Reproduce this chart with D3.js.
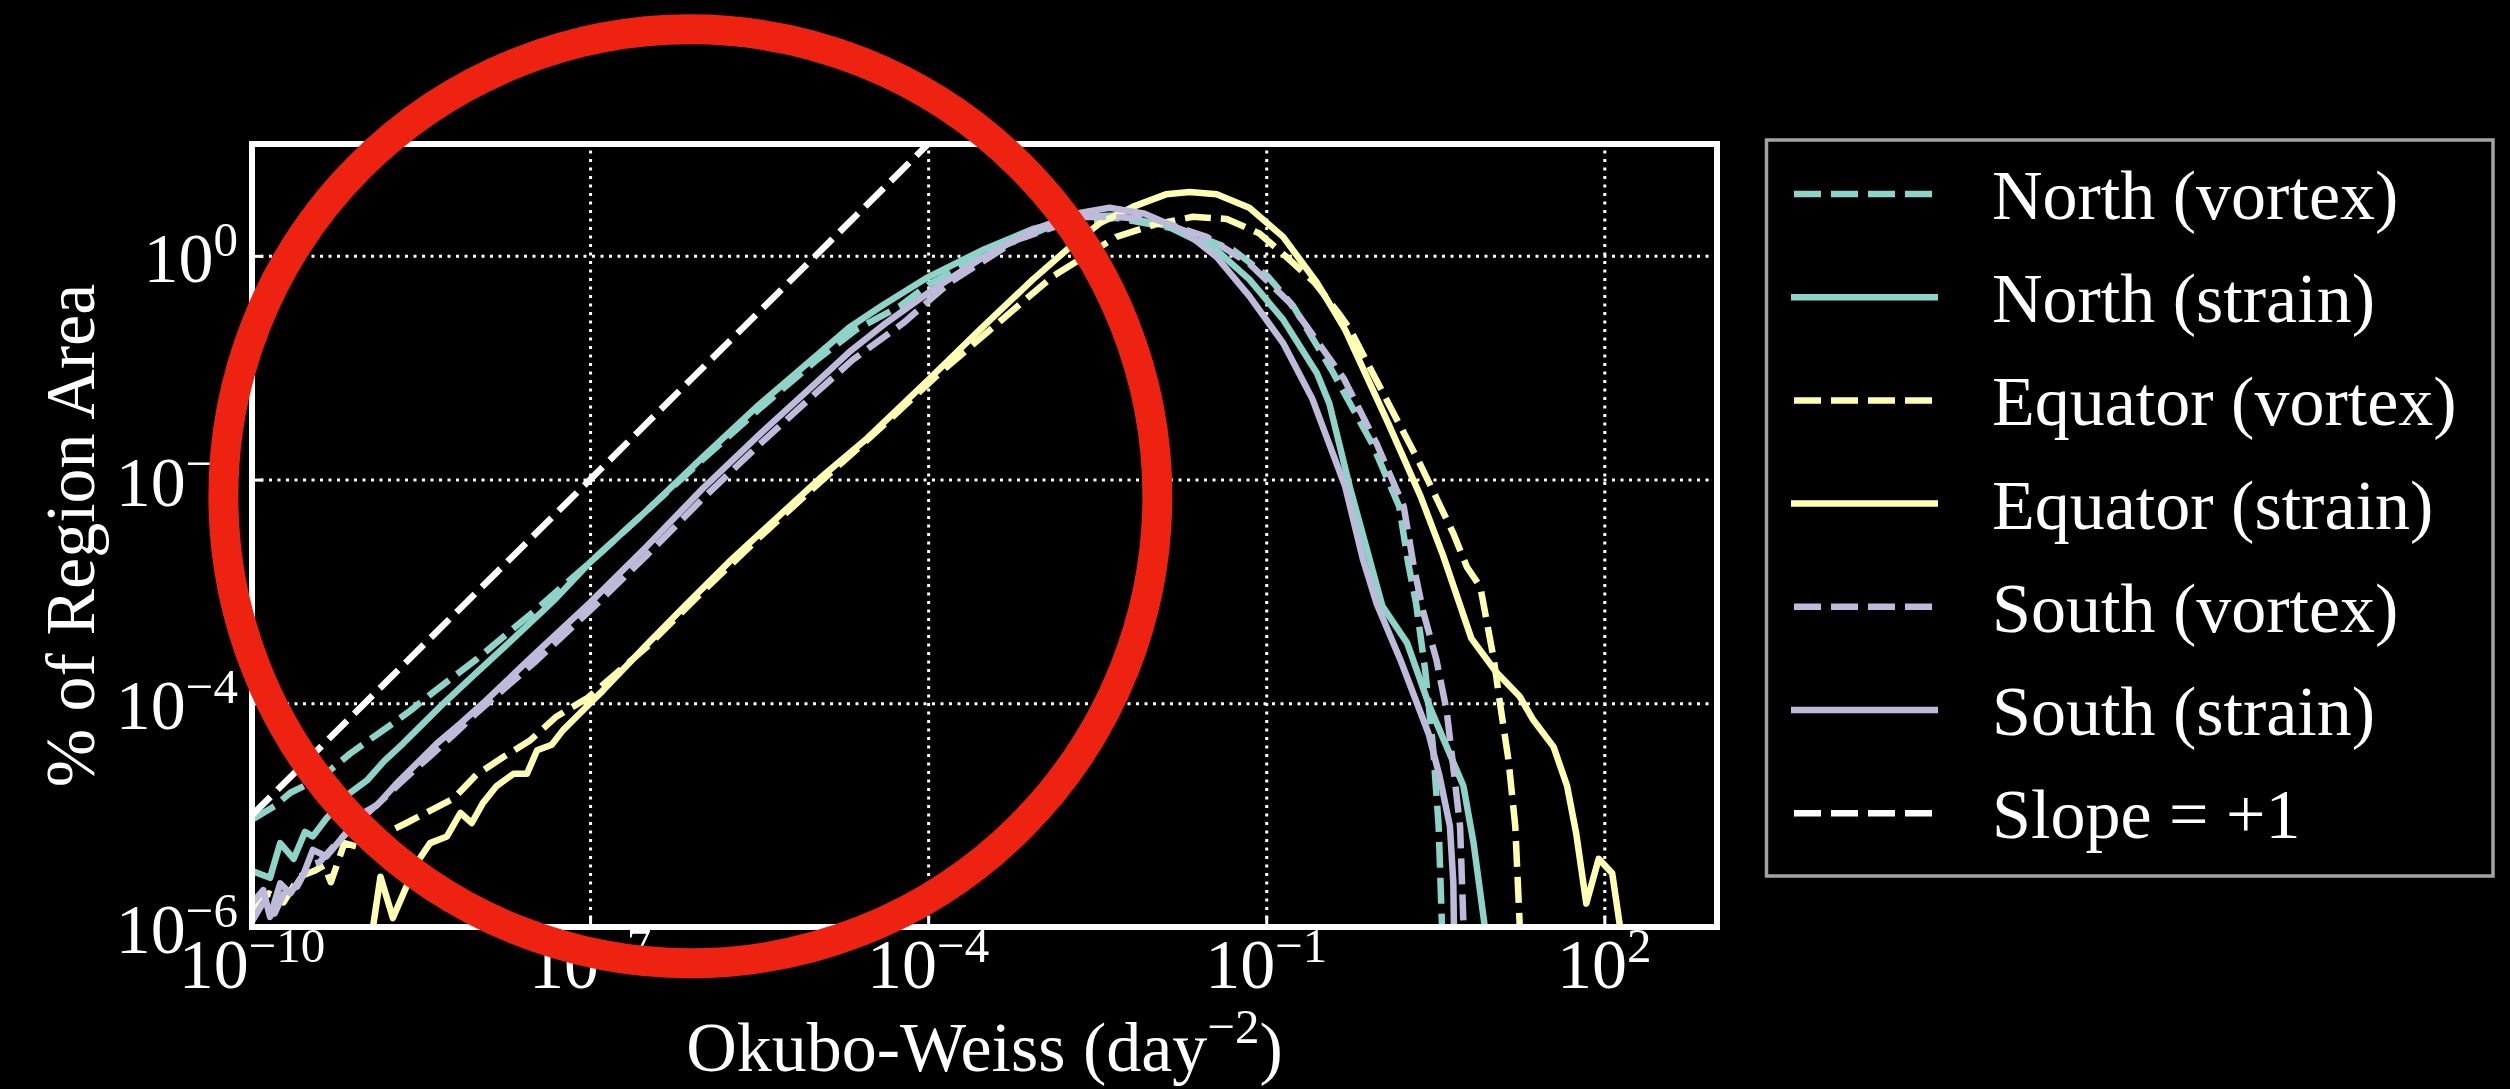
<!DOCTYPE html>
<html>
<head>
<meta charset="utf-8">
<script src="https://cdn.jsdelivr.net/npm/d3@7"></script>
<style>
  body { margin: 0; background: #000; }
  svg { display: block; }
  text { font-family: "Liberation Serif", "DejaVu Serif", serif; fill: #fff; }
</style>
</head>
<body>
<div id="chart"></div>
<script>
// values as [log10(Okubo-Weiss), log10(% of region area)]
var northVortex = [[-10.0,-5.04],[-9.8,-4.92],[-9.66,-4.80],[-9.54,-4.74],[-9.31,-4.60],[-9.13,-4.45],[-8.92,-4.30],[-8.75,-4.18],[-8.60,-4.07],[-8.39,-3.90],[-8.0,-3.60],[-7.5,-3.18],[-7.0,-2.74],[-6.5,-2.28],[-6.0,-1.82],[-5.5,-1.37],[-5.0,-0.94],[-4.64,-0.66],[-4.25,-0.45],[-4.0,-0.26],[-3.5,0.02],[-2.92,0.26],[-2.33,0.34],[-1.74,0.23],[-1.29,0.05],[-0.99,-0.18],[-0.76,-0.45],[-0.42,-1.02],[-0.06,-1.68],[0.18,-2.24],[0.26,-2.75],[0.33,-3.11],[0.41,-3.70],[0.48,-4.39],[0.53,-5.10],[0.56,-6.0],[0.57,-6.3]];

var northStrain = [[-10.0,-5.50],[-9.84,-5.56],[-9.75,-5.25],[-9.63,-5.39],[-9.53,-5.15],[-9.46,-5.19],[-9.34,-5.03],[-9.13,-4.80],[-8.98,-4.69],[-8.83,-4.52],[-8.66,-4.36],[-8.48,-4.18],[-8.30,-4.00],[-8.0,-3.72],[-7.7,-3.44],[-7.33,-3.09],[-7.0,-2.74],[-6.5,-2.28],[-6.0,-1.80],[-5.5,-1.33],[-5.0,-0.90],[-4.7,-0.64],[-4.4,-0.44],[-4.0,-0.19],[-3.5,0.06],[-3.07,0.24],[-2.62,0.35],[-2.33,0.36],[-1.89,0.27],[-1.44,0.05],[-1.15,-0.21],[-0.85,-0.57],[-0.55,-1.05],[-0.44,-1.32],[-0.26,-2.06],[0.03,-3.13],[0.25,-3.46],[0.45,-4.03],[0.75,-4.74],[0.84,-5.25],[0.94,-6.0],[0.97,-6.3]];

var equatorVortex = [[-10.0,-5.85],[-9.85,-5.70],[-9.72,-5.78],[-9.58,-5.55],[-9.45,-5.50],[-9.36,-5.45],[-9.30,-5.60],[-9.18,-5.25],[-9.0,-5.30],[-8.85,-5.18],[-8.63,-5.07],[-8.44,-4.97],[-8.21,-4.85],[-8.01,-4.64],[-7.77,-4.48],[-7.53,-4.33],[-7.30,-4.12],[-7.02,-3.95],[-6.5,-3.50],[-6.0,-3.00],[-5.5,-2.52],[-5.0,-2.06],[-4.5,-1.61],[-3.91,-1.06],[-3.38,-0.60],[-2.89,-0.18],[-2.33,0.17],[-1.99,0.28],[-1.65,0.35],[-1.35,0.33],[-1.06,0.20],[-0.82,-0.01],[-0.57,-0.24],[-0.36,-0.51],[-0.26,-0.65],[0.08,-1.31],[0.37,-1.87],[0.66,-2.48],[0.78,-2.78],[0.90,-2.96],[1.02,-3.61],[1.07,-3.97],[1.15,-4.51],[1.21,-5.10],[1.25,-6.0],[1.26,-6.3]];

var equatorStrain = [[-8.97,-6.3],[-8.86,-5.55],[-8.75,-5.92],[-8.54,-5.43],[-8.42,-5.25],[-8.27,-5.19],[-8.15,-4.98],[-8.05,-5.07],[-7.95,-4.89],[-7.83,-4.74],[-7.68,-4.63],[-7.56,-4.63],[-7.47,-4.42],[-7.34,-4.37],[-7.24,-4.24],[-7.06,-4.06],[-6.88,-3.88],[-6.5,-3.48],[-6.14,-3.11],[-5.75,-2.72],[-5.34,-2.34],[-4.95,-1.98],[-4.54,-1.63],[-4.3,-1.40],[-4.0,-1.11],[-3.51,-0.63],[-3.07,-0.21],[-2.74,0.08],[-2.48,0.29],[-2.18,0.44],[-1.89,0.55],[-1.68,0.57],[-1.44,0.55],[-1.15,0.43],[-0.85,0.17],[-0.55,-0.24],[-0.30,-0.66],[0.08,-1.49],[0.37,-2.15],[0.57,-2.68],[0.82,-3.42],[1.04,-3.72],[1.25,-3.94],[1.37,-4.15],[1.55,-4.39],[1.67,-4.74],[1.75,-5.16],[1.84,-5.79],[1.95,-5.39],[2.07,-5.52],[2.14,-6.0],[2.16,-6.3]];

var southVortex = [[-10.0,-5.95],[-9.9,-5.78],[-9.8,-5.88],[-9.7,-5.66],[-9.6,-5.64],[-9.5,-5.45],[-9.4,-5.42],[-9.25,-5.25],[-9.05,-5.05],[-8.85,-4.87],[-8.65,-4.68],[-8.45,-4.50],[-8.2,-4.27],[-8.0,-4.08],[-7.5,-3.64],[-7.0,-3.17],[-6.5,-2.68],[-6.0,-2.17],[-5.5,-1.69],[-5.0,-1.23],[-4.67,-0.93],[-4.22,-0.60],[-3.81,-0.24],[-3.22,0.14],[-2.62,0.35],[-2.03,0.34],[-1.53,0.17],[-1.15,-0.07],[-0.79,-0.42],[-0.31,-1.10],[-0.02,-1.68],[0.22,-2.24],[0.31,-2.78],[0.39,-3.17],[0.51,-3.61],[0.60,-4.06],[0.66,-4.57],[0.72,-5.10],[0.75,-5.97],[0.76,-6.3]];

var southStrain = [[-10.0,-5.79],[-9.90,-5.67],[-9.84,-5.91],[-9.75,-5.61],[-9.66,-5.70],[-9.54,-5.52],[-9.46,-5.31],[-9.34,-5.37],[-9.19,-5.19],[-9.01,-4.98],[-8.89,-4.91],[-8.72,-4.72],[-8.54,-4.54],[-8.36,-4.36],[-8.15,-4.18],[-7.95,-4.00],[-7.5,-3.57],[-7.0,-3.10],[-6.5,-2.60],[-6.0,-2.08],[-5.5,-1.60],[-5.0,-1.14],[-4.7,-0.86],[-4.4,-0.62],[-4.0,-0.33],[-3.51,-0.01],[-3.07,0.23],[-2.68,0.38],[-2.39,0.43],[-2.09,0.38],[-1.74,0.23],[-1.44,-0.01],[-1.15,-0.36],[-0.85,-0.78],[-0.59,-1.28],[-0.30,-2.06],[-0.14,-2.72],[-0.02,-3.11],[0.19,-3.61],[0.44,-4.27],[0.54,-4.66],[0.63,-5.10],[0.66,-5.6],[0.67,-6.3]];

var slopeOne = [[-10, -5], [-4, 1]];

var seriesNames = ['North (vortex)', 'North (strain)', 'Equator (vortex)', 'Equator (strain)', 'South (vortex)', 'South (strain)', 'Slope = +1'];
var seriesData = [northVortex, northStrain, equatorVortex, equatorStrain, southVortex, southStrain, slopeOne];
var seriesColors = ['#8dd3c7', '#8dd3c7', '#ffffb3', '#ffffb3', '#bebada', '#bebada', '#ffffff'];
var seriesDashed = [true, false, true, false, true, false, true];

var xTickExps = [-10, -7, -4, -1, 2];
var yTickExps = [-6, -4, -2, 0];

// red ring drawn over the figure, centre in data units
var ringCentre = [-6.11, -2.15];

function pow10(e) { return Math.pow(10, e); }
function expText(e) { return e < 0 ? '\u2212' + (-e) : '' + e; }

var W = 2510, H = 1089;
var plotLeft = 252, plotTop = 144, plotW = 1717 - 252, plotH = 927 - 144;
var lw = 6.5;

var svg = d3.select('#chart').append('svg')
  .attr('width', W)
  .attr('height', H)
  .style('background', '#000');

var x = d3.scaleLog().domain([1e-10, 1e3]).range([0, plotW]);
var y = d3.scaleLog().domain([1e-6, 1e1]).range([plotH, 0]);

var g = svg.append('g').attr('transform', 'translate(' + plotLeft + ',' + plotTop + ')');

g.append('clipPath').attr('id', 'plotclip')
  .append('rect').attr('width', plotW).attr('height', plotH);

// dotted grid
var xGrid = d3.axisBottom(x).tickValues(xTickExps.map(pow10)).tickSize(-plotH).tickFormat('');
var gx = g.append('g').attr('transform', 'translate(0,' + plotH + ')').call(xGrid);
gx.select('.domain').remove();
gx.selectAll('line').attr('stroke', '#fff').attr('stroke-width', 3).attr('stroke-dasharray', '3,5.5');

var yGrid = d3.axisLeft(y).tickValues(yTickExps.map(pow10)).tickSize(-plotW).tickFormat('');
var gy = g.append('g').call(yGrid);
gy.select('.domain').remove();
gy.selectAll('line').attr('stroke', '#fff').attr('stroke-width', 3).attr('stroke-dasharray', '3,5.5');

// curves
var line = d3.line()
  .x(function(d) { return x(pow10(d[0])); })
  .y(function(d) { return y(pow10(d[1])); });

var curves = g.append('g').attr('clip-path', 'url(#plotclip)');
seriesData.forEach(function(data, i) {
  curves.append('path')
    .datum(data)
    .attr('d', line)
    .attr('fill', 'none')
    .attr('stroke', seriesColors[i])
    .attr('stroke-width', lw)
    .attr('stroke-linejoin', 'round')
    .attr('stroke-dasharray', seriesDashed[i] ? '26,10' : null);
});

// inward ticks
var xTickAxis = d3.axisBottom(x).tickValues(xTickExps.map(pow10)).tickSize(-11).tickFormat('');
var tx = g.append('g').attr('transform', 'translate(0,' + plotH + ')').call(xTickAxis);
tx.select('.domain').remove();
tx.selectAll('line').attr('stroke', '#fff').attr('stroke-width', 3);

var yTickAxis = d3.axisLeft(y).tickValues(yTickExps.map(pow10)).tickSize(-11).tickFormat('');
var ty = g.append('g').call(yTickAxis);
ty.select('.domain').remove();
ty.selectAll('line').attr('stroke', '#fff').attr('stroke-width', 3);

// frame
g.append('rect')
  .attr('width', plotW)
  .attr('height', plotH)
  .attr('fill', 'none')
  .attr('stroke', '#fff')
  .attr('stroke-width', 6);

// tick labels 10^n
g.selectAll('.xlab').data(xTickExps).enter().append('text')
  .attr('class', 'xlab')
  .attr('x', function(d) { return x(pow10(d)); })
  .attr('y', plotH + 61)
  .attr('text-anchor', 'middle')
  .style('font-size', '70px')
  .each(function(d) {
    var t = d3.select(this);
    t.append('tspan').text('10');
    t.append('tspan').attr('dy', -26).style('font-size', '49px').text(expText(d));
  });

g.selectAll('.ylab').data(yTickExps).enter().append('text')
  .attr('class', 'ylab')
  .attr('x', -14)
  .attr('y', function(d) { return y(pow10(d)) + 26; })
  .attr('text-anchor', 'end')
  .style('font-size', '70px')
  .each(function(d) {
    var t = d3.select(this);
    t.append('tspan').text('10');
    t.append('tspan').attr('dy', -26).style('font-size', '49px').text(expText(d));
  });

// axis titles
var xt = svg.append('text')
  .attr('x', plotLeft + plotW / 2)
  .attr('y', 1071)
  .attr('text-anchor', 'middle')
  .style('font-size', '70px');
xt.append('tspan').text('Okubo-Weiss (day');
xt.append('tspan').attr('dy', -28).style('font-size', '49px').text('\u22122');
xt.append('tspan').attr('dy', 28).text(')');

svg.append('text')
  .attr('transform', 'translate(94,' + (plotTop + plotH / 2) + ') rotate(-90)')
  .attr('text-anchor', 'middle')
  .style('font-size', '70px')
  .text('% of Region Area');

// legend
var legend = svg.append('g');
legend.append('rect')
  .attr('x', 1766.5).attr('y', 140)
  .attr('width', 2493 - 1766.5).attr('height', 876 - 140)
  .attr('fill', '#000')
  .attr('stroke', '#a3a3a3')
  .attr('stroke-width', 3.5);

seriesNames.forEach(function(name, i) {
  var ly = 194 + i * 103.2;
  legend.append('line')
    .attr('x1', seriesDashed[i] ? 1794 : 1791).attr('x2', 1938)
    .attr('y1', ly).attr('y2', ly)
    .attr('stroke', seriesColors[i])
    .attr('stroke-width', lw)
    .attr('stroke-dasharray', seriesDashed[i] ? '27,10' : null);
  legend.append('text')
    .attr('x', 1992)
    .attr('y', ly + 25)
    .style('font-size', '70px')
    .text(name);
});

// red ring on top
svg.append('circle')
  .attr('cx', plotLeft + x(pow10(ringCentre[0])))
  .attr('cy', plotTop + y(pow10(ringCentre[1])))
  .attr('r', 467)
  .attr('fill', 'none')
  .attr('stroke', '#ee2211')
  .attr('stroke-width', 30);
</script>
</body>
</html>
